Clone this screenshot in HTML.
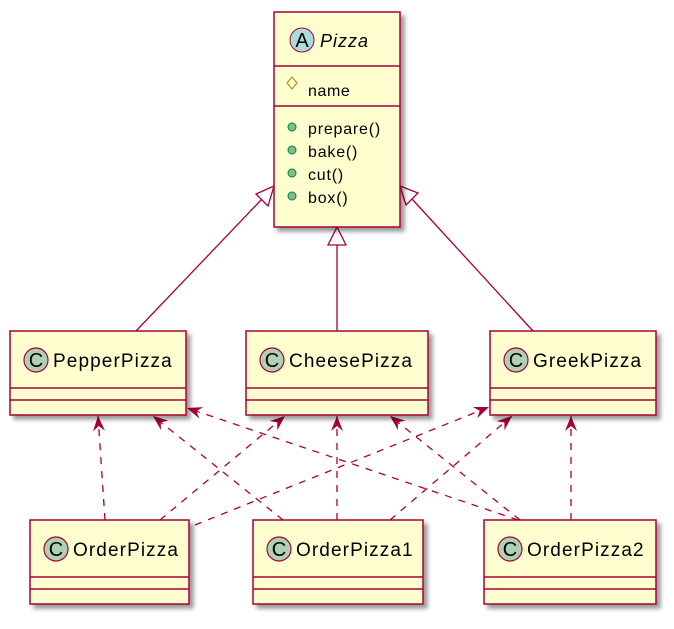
<!DOCTYPE html>
<html><head><meta charset="utf-8"><style>
html,body{margin:0;padding:0;background:#fff;}
svg text{font-family:"Liberation Sans",sans-serif;}
</style></head><body>
<svg width="674" height="624" viewBox="0 0 674 624" xmlns="http://www.w3.org/2000/svg">
<defs>
<filter id="sh" x="-10%" y="-10%" width="130%" height="130%"><feGaussianBlur in="SourceAlpha" stdDeviation="2"/><feOffset dx="4" dy="4"/><feComponentTransfer><feFuncA type="linear" slope="0.4"/></feComponentTransfer><feMerge><feMergeNode/><feMergeNode in="SourceGraphic"/></feMerge></filter>
<marker id="op" markerWidth="18" markerHeight="14" refX="15" refY="6" orient="auto" markerUnits="userSpaceOnUse"><path d="M0,0 L15,6 L0,12 L5,6 Z" fill="#A80036"/></marker>
</defs>
<g stroke="#A80036" stroke-width="1.3" fill="none">
<line x1="136" y1="331" x2="262" y2="199"/>
<polygon points="274,186 256,194 268,206" fill="#fff"/>
<line x1="337" y1="331" x2="337" y2="245"/>
<polygon points="337,227 328,245 346,245" fill="#fff"/>
<line x1="533" y1="331" x2="412" y2="199"/>
<polygon points="400,186 406,205 418,193" fill="#fff"/>
<g stroke-dasharray="7,7">
<line x1="105" y1="520" x2="98" y2="416" marker-end="url(#op)"/>
<line x1="160" y1="520" x2="285" y2="416" marker-end="url(#op)"/>
<line x1="195" y1="525" x2="489" y2="407" marker-end="url(#op)"/>
<line x1="283" y1="520" x2="153" y2="416" marker-end="url(#op)"/>
<line x1="337" y1="520" x2="337" y2="416" marker-end="url(#op)"/>
<line x1="390" y1="520" x2="512" y2="416" marker-end="url(#op)"/>
<line x1="518" y1="520" x2="187" y2="408" marker-end="url(#op)"/>
<line x1="520" y1="520" x2="390" y2="416" marker-end="url(#op)"/>
<line x1="571" y1="520" x2="571" y2="416" marker-end="url(#op)"/>
</g>
</g>
<g stroke="#A80036" stroke-width="1.5" fill="#FEFECE" filter="url(#sh)">
<rect x="274" y="12" width="126" height="215"/>
<rect x="10" y="331" width="176" height="84"/>
<rect x="246" y="331" width="182" height="84"/>
<rect x="490" y="331" width="166" height="84"/>
<rect x="30" y="520" width="159" height="84"/>
<rect x="253" y="520" width="170" height="84"/>
<rect x="484" y="520" width="172" height="84"/>
</g>
<g stroke="#A80036" stroke-width="1.5">
<line x1="274" y1="66" x2="400" y2="66"/><line x1="274" y1="106" x2="400" y2="106"/>
<line x1="10" y1="388" x2="186" y2="388"/><line x1="10" y1="400" x2="186" y2="400"/>
<line x1="246" y1="388" x2="428" y2="388"/><line x1="246" y1="400" x2="428" y2="400"/>
<line x1="490" y1="388" x2="656" y2="388"/><line x1="490" y1="400" x2="656" y2="400"/>
<line x1="30" y1="577" x2="189" y2="577"/><line x1="30" y1="589" x2="189" y2="589"/>
<line x1="253" y1="577" x2="423" y2="577"/><line x1="253" y1="589" x2="423" y2="589"/>
<line x1="484" y1="577" x2="656" y2="577"/><line x1="484" y1="589" x2="656" y2="589"/>
</g>
<circle cx="302" cy="40" r="12" fill="#A9DCDF" stroke="#A80036"/>
<text x="302" y="47" font-size="20" text-anchor="middle" font-family="Liberation Serif">A</text>
<text x="320" y="47" font-size="18" font-style="italic" letter-spacing="1">Pizza</text>
<polygon points="292,77 297,83 292,89 287,83" fill="none" stroke="#B38D22" stroke-width="1.2"/>
<text x="308" y="96" font-size="16" letter-spacing="0.6">name</text>
<g fill="#84BE84" stroke="#038048" stroke-width="1">
<circle cx="292" cy="127" r="4"/><circle cx="292" cy="150" r="4"/><circle cx="292" cy="173" r="4"/><circle cx="292" cy="196" r="4"/>
</g>
<g font-size="16" letter-spacing="0.8"><text x="308" y="134">prepare()</text><text x="308" y="157">bake()</text><text x="308" y="180">cut()</text><text x="308" y="203">box()</text></g>
<g fill="#ADD1B2" stroke="#A80036" stroke-width="1.2">
<circle cx="36" cy="360" r="12"/><circle cx="272" cy="360" r="12"/><circle cx="516" cy="360" r="12"/>
<circle cx="56" cy="549" r="12"/><circle cx="279" cy="549" r="12"/><circle cx="510" cy="549" r="12"/>
</g>
<g font-size="20" text-anchor="middle" font-family="Liberation Serif">
<text x="36" y="367">C</text><text x="272" y="367">C</text><text x="516" y="367">C</text>
<text x="56" y="556">C</text><text x="279" y="556">C</text><text x="510" y="556">C</text>
</g>
<g font-size="19" letter-spacing="1.1">
<text x="53" y="367">PepperPizza</text>
<text x="289" y="367">CheesePizza</text>
<text x="533" y="367">GreekPizza</text>
<text x="73" y="556">OrderPizza</text>
<text x="296" y="556">OrderPizza1</text>
<text x="527" y="556">OrderPizza2</text>
</g>
</svg>
</body></html>
